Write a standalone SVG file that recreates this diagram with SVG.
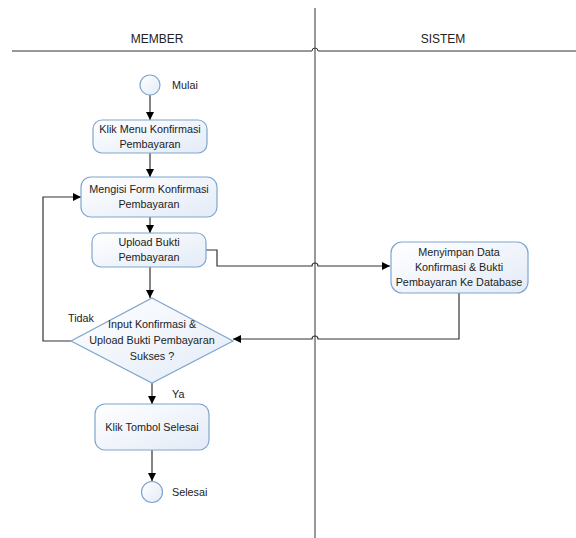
<svg xmlns="http://www.w3.org/2000/svg" width="576" height="538" viewBox="0 0 576 538">
<defs>
<linearGradient id="g" x1="0" y1="0" x2="1" y2="1">
<stop offset="0" stop-color="#ffffff"/>
<stop offset="1" stop-color="#e3ebf7"/>
</linearGradient>
<marker id="a" viewBox="0 0 10 10" refX="10" refY="5" markerWidth="8" markerHeight="8" markerUnits="userSpaceOnUse" orient="auto">
<path d="M0,0 L10,5 L0,10 z" fill="#000"/>
</marker>
<style>
.n{fill:url(#g);stroke:#7fa6cf;stroke-width:1.2}
.t{font-family:"Liberation Sans",Arial,sans-serif;font-size:10.8px;fill:#222}
.h{font-family:"Liberation Sans",Arial,sans-serif;font-size:12px;fill:#222}
.c{fill:none;stroke:#333;stroke-width:1.2}
.l{fill:none;stroke:#333;stroke-width:1}
</style>
</defs>
<rect width="576" height="538" fill="#fff"/>
<g id="lanes">
<path class="l" d="M315,8 V538"/>
<path class="l" d="M12,51 H312 A3,3 0 0 1 318,51 H576"/>
<text class="h" x="157" y="43" text-anchor="middle">MEMBER</text>
<text class="h" x="443" y="43" text-anchor="middle">SISTEM</text>
</g>
<g id="connectors">
<path class="c" d="M150,95 V120" marker-end="url(#a)"/>
<path class="c" d="M150,153 V177" marker-end="url(#a)"/>
<path class="c" d="M150,217 V233" marker-end="url(#a)"/>
<path class="c" d="M150,267 V298" marker-end="url(#a)"/>
<path class="c" d="M206,250 H217 V266 H312 A3,3 0 0 1 318,266 H390" marker-end="url(#a)"/>
<path class="c" d="M459,293 V339 H318 A3,3 0 0 0 312,339 H233" marker-end="url(#a)"/>
<path class="c" d="M71,341 H43 V197 H81" marker-end="url(#a)"/>
<path class="c" d="M152,383 V404" marker-end="url(#a)"/>
<path class="c" d="M152,450 V481" marker-end="url(#a)"/>
</g>
<g id="start">
<circle class="n" cx="150" cy="85" r="10"/>
<text class="t" x="172" y="89">Mulai</text>
</g>
<g id="klik-menu">
<rect class="n" x="93" y="120" width="114" height="33" rx="9"/>
<text class="t" x="150" y="133" text-anchor="middle">Klik Menu Konfirmasi</text>
<text class="t" x="150" y="148" text-anchor="middle">Pembayaran</text>
</g>
<g id="mengisi-form">
<rect class="n" x="81" y="177" width="136" height="40" rx="10"/>
<text class="t" x="149" y="193" text-anchor="middle">Mengisi Form Konfirmasi</text>
<text class="t" x="149" y="208" text-anchor="middle">Pembayaran</text>
</g>
<g id="upload">
<rect class="n" x="92" y="233" width="114" height="34" rx="9"/>
<text class="t" x="149" y="246" text-anchor="middle">Upload Bukti</text>
<text class="t" x="149" y="261" text-anchor="middle">Pembayaran</text>
</g>
<g id="menyimpan">
<rect class="n" x="391" y="242" width="137" height="51" rx="11"/>
<text class="t" x="459" y="256" text-anchor="middle">Menyimpan Data</text>
<text class="t" x="459" y="271" text-anchor="middle">Konfirmasi &amp; Bukti</text>
<text class="t" x="459" y="286" text-anchor="middle">Pembayaran Ke Database</text>
</g>
<g id="decision">
<path class="n" d="M152,298 L233,341 L152,383 L71,341 Z"/>
<text class="t" x="152" y="328" text-anchor="middle">Input Konfirmasi &amp;</text>
<text class="t" x="152" y="344" text-anchor="middle">Upload Bukti Pembayaran</text>
<text class="t" x="152" y="360" text-anchor="middle">Sukses ?</text>
<text class="t" x="68" y="322">Tidak</text>
<text class="t" x="172" y="398">Ya</text>
</g>
<g id="klik-selesai">
<rect class="n" x="95" y="404" width="114" height="46" rx="10"/>
<text class="t" x="152" y="431" text-anchor="middle">Klik Tombol Selesai</text>
</g>
<g id="end">
<circle class="n" cx="152" cy="492" r="10.5"/>
<text class="t" x="172" y="496">Selesai</text>
</g>
</svg>
